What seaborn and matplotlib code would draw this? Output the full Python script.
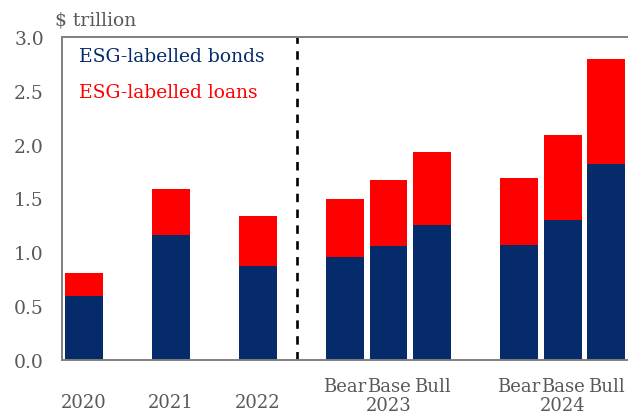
import matplotlib
matplotlib.use("Agg")
import matplotlib.pyplot as plt
import matplotlib.transforms as mtransforms
import numpy as np
import pandas as pd
import seaborn as sns

# ESG-labelled issuance, $ trillion (2023 and 2024 are scenario projections)
years = ["2020", "2021", "2022", "2023", "2023", "2023", "2024", "2024", "2024"]
scenarios = ["", "", "", "Bear", "Base", "Bull", "Bear", "Base", "Bull"]
bonds = [0.59, 1.16, 0.87, 0.96, 1.06, 1.25, 1.07, 1.30, 1.82]
loans = [0.22, 0.43, 0.47, 0.54, 0.61, 0.68, 0.62, 0.79, 0.98]

NAVY = "#062b6b"
RED = "#ff0000"
GREY = "#595959"
FONT = "DejaVu Serif"

sns.set_theme(style="white")
plt.rcParams["font.family"] = [FONT, "DejaVu Sans"]

# slot layout: one empty slot between different years, adjacent within a year
pos = []
p = 0
for i, y in enumerate(years):
    if i > 0:
        p += 1 if y == years[i - 1] and scenarios[i] else 2
    pos.append(p)

df = pd.DataFrame({
    "pos": pos,
    "year": years,
    "scenario": scenarios,
    "bonds": bonds,
    "loans": loans,
})
df["total"] = df["bonds"] + df["loans"]

fig = plt.figure(figsize=(6.28, 4.14), dpi=100)
ax = fig.add_axes([62 / 628, 53 / 414, 1 - 62 / 628, 323 / 414])

sns.barplot(data=df, x="pos", y="total", native_scale=True, color=RED,
            saturation=1, width=0.87, ax=ax, linewidth=0)
sns.barplot(data=df, x="pos", y="bonds", native_scale=True, color=NAVY,
            saturation=1, width=0.87, ax=ax, linewidth=0)

ax.set_xlim(-0.5, 12.5)
ax.set_ylim(0, 3.0)
ax.set_yticks(np.arange(0, 3.01, 0.5))
ax.set_yticklabels([f"{v:.1f}" for v in np.arange(0, 3.01, 0.5)],
                   fontsize=13.5, color=GREY)
ax.tick_params(axis="y", length=0, pad=13)
ax.set_xticks([])
ax.set_xlabel("")
ax.set_ylabel("")

for side in ["left", "bottom", "top"]:
    ax.spines[side].set_visible(True)
    ax.spines[side].set_color("#7f7f7f")
    ax.spines[side].set_linewidth(1.4)
ax.spines["right"].set_visible(False)

# forecast divider
ax.axvline(4.9, color="black", linestyle=(0, (3.2, 2.8)), linewidth=1.9)

# category labels under the axis
trans = mtransforms.blended_transform_factory(ax.transData, ax.transAxes)
for yr, grp in df.groupby("year", sort=False):
    if (grp["scenario"] != "").any():
        for _, r in grp.iterrows():
            ax.text(r["pos"], -0.08, r["scenario"], transform=trans,
                    ha="center", va="center", fontsize=13, color=GREY)
        ax.text(grp["pos"].mean(), -0.138, yr, transform=trans,
                ha="center", va="center", fontsize=13, color=GREY)
    else:
        ax.text(grp["pos"].iloc[0], -0.13, yr, transform=trans,
                ha="center", va="center", fontsize=13, color=GREY)

# inline legend
ax.text(0.03, 0.94, "ESG-labelled bonds", transform=ax.transAxes,
        ha="left", va="center", fontsize=13.5, color=NAVY)
ax.text(0.03, 0.83, "ESG-labelled loans", transform=ax.transAxes,
        ha="left", va="center", fontsize=13.5, color=RED)

fig.text(55 / 628, 1 - 21 / 414, "$ trillion", ha="left", va="center",
         fontsize=13.5, color=GREY)

fig.savefig("out.png", dpi=100)
